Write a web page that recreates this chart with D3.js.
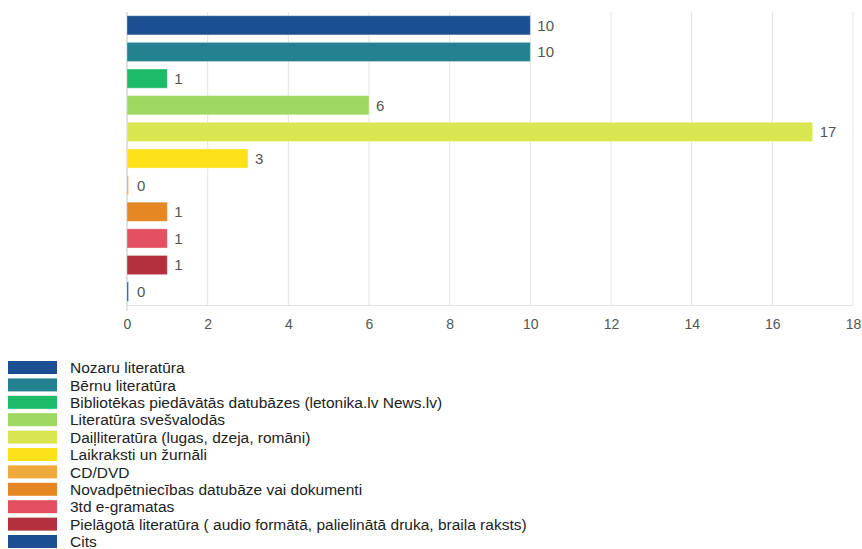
<!DOCTYPE html>
<html><head><meta charset="utf-8">
<script src="https://cdn.jsdelivr.net/npm/d3@7"></script>
<style>body{margin:0;background:#fff;font-family:"Liberation Sans",Arial,sans-serif;}</style>
</head><body><svg id="c" width="862" height="549"></svg>
<script>
const categories = ["Nozaru literatūra","Bērnu literatūra","Bibliotēkas piedāvātās datubāzes (letonika.lv News.lv)","Literatūra svešvalodās","Daiļliteratūra (lugas, dzeja, romāni)","Laikraksti un žurnāli","CD/DVD","Novadpētniecības datubāze vai dokumenti","3td e-gramatas","Pielāgotā literatūra ( audio formātā, palielinātā druka, braila raksts)","Cits"];
const values = [10,10,1,6,17,3,0,1,1,1,0];
const colors = ["#1c4f91","#238190","#1dba6a","#9fd860","#d8e74f","#fde21a","#f0a93b","#e58722","#e35060","#b5303e","#1c4f91"];
const xTicks = [0,2,4,6,8,10,12,14,16,18];

const svg = d3.select("#c");
const m = {left:127, right:853, top:12, bottom:305};
const x = d3.scaleLinear().domain([0,18]).range([m.left, m.right]);
const y = d3.scaleBand().domain(categories.map((d,i)=>i)).range([m.top, m.bottom]).paddingInner(0.28).paddingOuter(0.14);

svg.append("g").selectAll("line").data(xTicks).join("line")
  .attr("x1",d=>x(d)).attr("x2",d=>x(d)).attr("y1",m.top).attr("y2",m.bottom)
  .attr("stroke","#e3e3e3").attr("stroke-width",1);
svg.append("line").attr("x1",m.left).attr("x2",m.right).attr("y1",m.bottom+0.5).attr("y2",m.bottom+0.5).attr("stroke","#e3e3e3");
svg.append("line").attr("x1",m.left).attr("x2",m.left).attr("y1",m.top).attr("y2",m.bottom+6).attr("stroke","#cfcfcf");

const ax = svg.append("g").attr("transform",`translate(0,${m.bottom})`).call(d3.axisBottom(x).tickValues(xTicks).tickSize(0).tickPadding(14).tickFormat(d3.format("d")));
ax.select(".domain").remove();
ax.selectAll("text").attr("font-family","'Liberation Sans',Arial,sans-serif").attr("font-size",14).attr("fill","#555");

svg.append("g").selectAll("rect").data(values).join("rect")
  .attr("x",x(0)).attr("y",(d,i)=>y(i)).attr("height",y.bandwidth())
  .attr("width",d=>Math.max(x(d)-x(0),1.5))
  .attr("fill",(d,i)=>colors[i]).attr("stroke","rgba(255,255,255,0.35)").attr("stroke-width",1);

svg.append("g").selectAll("text").data(values).join("text")
  .attr("x",d=>x(d)+ (d===0?10:7)).attr("y",(d,i)=>y(i)+y.bandwidth()/2)
  .attr("dy","0.36em").attr("font-size",15).attr("fill","#555")
  .text(d=>d);

const lg = svg.append("g");
const rows = lg.selectAll("g").data(categories).join("g")
  .attr("transform",(d,i)=>`translate(8,${361+i*17.4})`);
rows.append("rect").attr("width",49).attr("height",13).attr("fill",(d,i)=>colors[i]);
rows.append("text").attr("x",62).attr("y",7).attr("dy","0.34em").attr("font-size",15.5).attr("fill","#222").text(d=>d);
</script></body></html>
